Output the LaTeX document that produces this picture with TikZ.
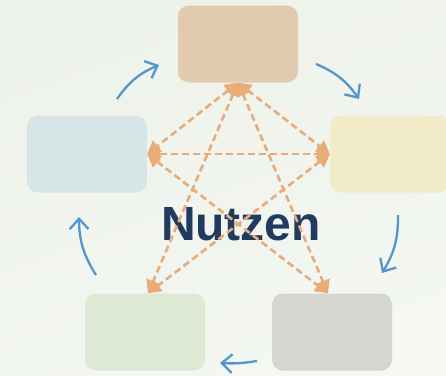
\documentclass[tikz,border=0pt]{standalone}
\usepackage{fontspec}
\setmainfont{Liberation Sans}
\usetikzlibrary{arrows.meta}

\definecolor{bgA}{HTML}{EDF2EA}
\definecolor{bgB}{HTML}{F4F7F2}
\definecolor{linkorange}{HTML}{E8AC78}
\definecolor{cycleblue}{HTML}{5496CB}
\definecolor{titleblue}{HTML}{213B5E}

\tikzstyle{link} = [line width=2.6pt,dash pattern=on 7pt off 4pt,linkorange,
        {Triangle[length=13pt,width=14pt]}-{Triangle[length=13pt,width=14pt]}]
\tikzstyle{cycle} = [line width=2.3pt,cycleblue,-{Straight Barb[angle=84:14pt]},bend left=16]
\tikzstyle{stage} = [
        rectangle,
        rounded corners=11pt,
        minimum width=120pt,
        minimum height=77pt,
        draw=none
    ]

\begin{document}
\begin{tikzpicture}[x=1pt,y=-1pt,node distance=110pt]

        \shade [left color=bgA, right color=bgB, shading angle=20] (0,0) rectangle (446,375);
        \useasboundingbox (0,0) rectangle (446,375);

        \node [stage, fill={rgb,255:red,226;green,202;blue,175}] (top) at (238,44) {};
        \node [stage, fill={rgb,255:red,216;green,229;blue,230}, below of=top, xshift=-151pt] (left) {};
        \node [stage, fill={rgb,255:red,242;green,235;blue,201}, below of=top, xshift=152pt] (right) {};
        \node [stage, fill={rgb,255:red,221;green,233;blue,212}, below of=left, yshift=-68pt, xshift=58pt] (botleft) {};
        \node [stage, fill={rgb,255:red,211;green,214;blue,209}, below of=right, yshift=-68pt, xshift=-58pt] (botright) {};

        \node [titleblue, font=\bfseries\fontsize{48}{48}\selectfont, anchor=base] (title) at (241,240) {Nutzen};

        \draw [link] (top.south) -- (left.east);
        \draw [link] (top.south) -- (right.west);
        \draw [link] (top.south) -- ([xshift=3pt]botleft.north);
        \draw [link] (top.south) -- ([xshift=-4pt]botright.north);
        \draw [link] (left.east) -- (right.west);
        \draw [link] (left.east) -- ([xshift=-4pt]botright.north);
        \draw [link] (right.west) -- ([xshift=3pt]botleft.north);

        \coordinate (c1a) at (117,99);
        \coordinate (c1b) at (159,65);
        \coordinate (c2a) at (316,64);
        \coordinate (c2b) at (359,99);
        \coordinate (c3a) at (398,215);
        \coordinate (c3b) at (382,273);
        \coordinate (c4a) at (257,361);
        \coordinate (c4b) at (220,363);
        \coordinate (c5a) at (96,275);
        \coordinate (c5b) at (79,217);

        \draw [cycle] (c1a) to (c1b);
        \draw [cycle] (c2a) to (c2b);
        \draw [cycle] (c3a) to (c3b);
        \draw [cycle, bend left=6] (c4a) to (c4b);
        \draw [cycle] (c5a) to (c5b);

    \end{tikzpicture}
\end{document}
